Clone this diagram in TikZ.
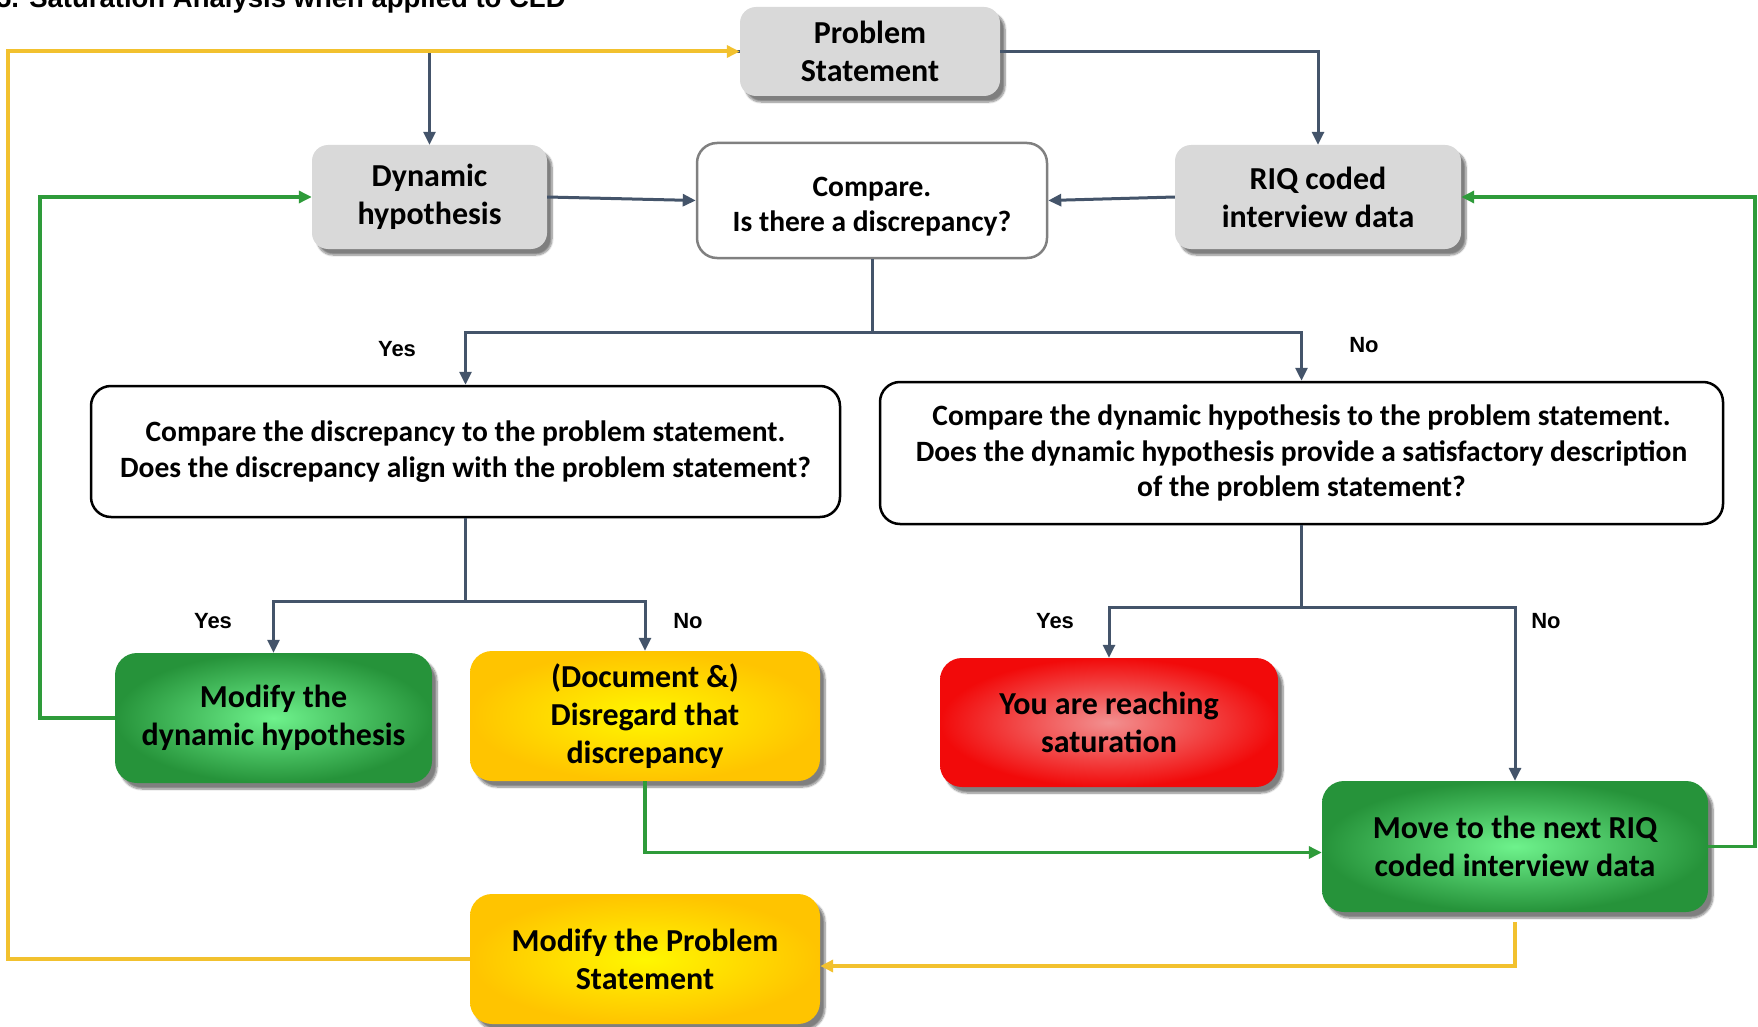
\documentclass[tikz,border=0pt]{standalone}
\usepackage{fontspec}
\setmainfont{Carlito}
\newfontfamily\arialb{Liberation Sans}
\usetikzlibrary{arrows.meta,shadows.blur}
\definecolor{boxgray}{HTML}{D9D9D9}
\definecolor{dkline}{HTML}{44546A}
\definecolor{gnline}{HTML}{2E9B3A}
\definecolor{ylline}{HTML}{F2C12E}
\definecolor{gndark}{HTML}{26933A}
\definecolor{gnlight}{HTML}{6EF28C}
\definecolor{yldark}{HTML}{FFC400}
\definecolor{yllight}{HTML}{FFF700}
\definecolor{rddark}{HTML}{F20A0A}
\definecolor{rdlight}{HTML}{F29090}
\tikzset{
  shad/.style={blur shadow={shadow xshift=5pt, shadow yshift=-6pt, shadow blur steps=8, shadow opacity=50}},
  gbox/.style={rectangle, rounded corners=16pt, fill=boxgray, shad, align=center,
    font=\bfseries\fontsize{32}{38}\selectfont, inner sep=0pt},
  qbox/.style={rectangle, rounded corners=20pt, draw=black, line width=2.5pt, fill=white, align=center,
    font=\bfseries\fontsize{29.5}{35.5}\selectfont, inner sep=0pt},
  cbox/.style={rectangle, rounded corners=22pt, shad, align=center,
    font=\bfseries\fontsize{32}{38}\selectfont, inner sep=0pt},
  gnbox/.style={cbox, inner color=gnlight, outer color=gndark},
  ylbox/.style={cbox, inner color=yllight, outer color=yldark},
  rdbox/.style={cbox, inner color=rdlight, outer color=rddark},
  tip/.style={-{Triangle[length=13pt,width=12pt]}},
  dk/.style={draw=dkline, line width=3pt},
  dka/.style={dk, tip},
  gna/.style={draw=gnline, line width=3.5pt, tip},
  yla/.style={draw=ylline, line width=4pt, tip},
  lbl/.style={font=\arialb\bfseries\fontsize{22}{26}\selectfont, inner sep=0pt},
}
\begin{document}
\begin{tikzpicture}[x=1pt,y=-1pt]
\useasboundingbox (0,0) rectangle (1758,1027);
\node[font=\arialb\bfseries\fontsize{27.5}{32}\selectfont, anchor=base west, inner sep=0pt] (title) at (-4,8) {5. Saturation Analysis when applied to CLD};

\node[gbox, minimum width=260pt, minimum height=89pt] (PS) at (870,51.5) {Problem\\Statement};
\node[gbox, minimum width=235pt, minimum height=104pt] (DH) at (429.5,197) {Dynamic\\hypothesis};
\node[qbox, draw=black!50, minimum width=350pt, minimum height=115pt, font=\bfseries\fontsize{29.5}{35}\selectfont] (CMP) at (872,200.5) {\rule{0pt}{32pt}Compare.\\Is there a discrepancy?};
\node[gbox, minimum width=286pt, minimum height=104pt] (RIQ) at (1318,197) {RIQ coded\\interview data};

\node[qbox, minimum width=749pt, minimum height=131pt] (L) at (465.5,451.5) {Compare the discrepancy to the problem statement.\\Does the discrepancy align with the problem statement?};
\node[qbox, minimum width=843pt, minimum height=142pt] (R) at (1301.5,453) {Compare the dynamic hypothesis to the problem statement.\\Does the dynamic hypothesis provide a satisfactory description\\of the problem statement?};

\node[gnbox, minimum width=317pt, minimum height=130pt] (MDH) at (273.5,718) {Modify the\\dynamic hypothesis};
\node[ylbox, minimum width=350pt, minimum height=130pt] (DOC) at (645,716) {(Document \&)\\Disregard that\\discrepancy};
\node[rdbox, minimum width=338pt, minimum height=129pt] (RED) at (1109,722.5) {You are reaching\\saturation};
\node[gnbox, minimum width=386pt, minimum height=131pt] (MOVE) at (1515,846.5) {Move to the next RIQ\\coded interview data};
\node[ylbox, minimum width=350pt, minimum height=130pt] (MPS) at (645,959) {Modify the Problem\\Statement};

\node[lbl] (y1) at (397,349) {Yes};
\node[lbl] (n1) at (1364,345) {No};
\node[lbl] (y2) at (213,621) {Yes};
\node[lbl] (n2) at (688,621) {No};
\node[lbl] (y3) at (1055,621) {Yes};
\node[lbl] (n3) at (1546,621) {No};

\coordinate (ys1) at (0,332);
\coordinate (ys2) at (0,601);
\coordinate (ys3) at (0,607);
\coordinate (xl) at (8,0);
\coordinate (xg) at (40,0);
\coordinate (xr) at (1755,0);

% dark connectors
\draw[dka] (PS.west) -| (DH.north);
\draw[dka] (PS.east) -| (RIQ.north);
\draw[dka] (DH.east) -- (CMP.west);
\draw[dka] (RIQ.west) -- (CMP.east);
\draw[dk] (CMP.south) -- (CMP.south |- ys1) coordinate (j1);
\draw[dka] (j1) -| (L.north);
\draw[dka] (j1) -| (R.north);
\draw[dk] (L.south) -- (L.south |- ys2) coordinate (j2);
\draw[dka] (j2) -| (MDH.north);
\draw[dka] (j2) -| (DOC.north);
\draw[dk] (R.south) -- (R.south |- ys3) coordinate (j3);
\draw[dka] (j3) -| (RED.north);
\draw[dka] (j3) -| (MOVE.north);

% yellow connectors
\draw[yla] (MPS.west) -- (MPS.west -| xl) -- (xl |- PS.west) -- (PS.west);
\draw[yla] ([yshift=-10pt]MOVE.south) |- ([yshift=-7pt]MPS.east);

% green connectors
\draw[gna] (MDH.west) -- (MDH.west -| xg) -- (xg |- DH.west) -- (DH.west);
\draw[gna] (DOC.south) |- ([yshift=-6pt]MOVE.west);
\draw[gna] (MOVE.east) -- (MOVE.east -| xr) -- (xr |- RIQ.east) -- (RIQ.east);
\end{tikzpicture}
\end{document}
